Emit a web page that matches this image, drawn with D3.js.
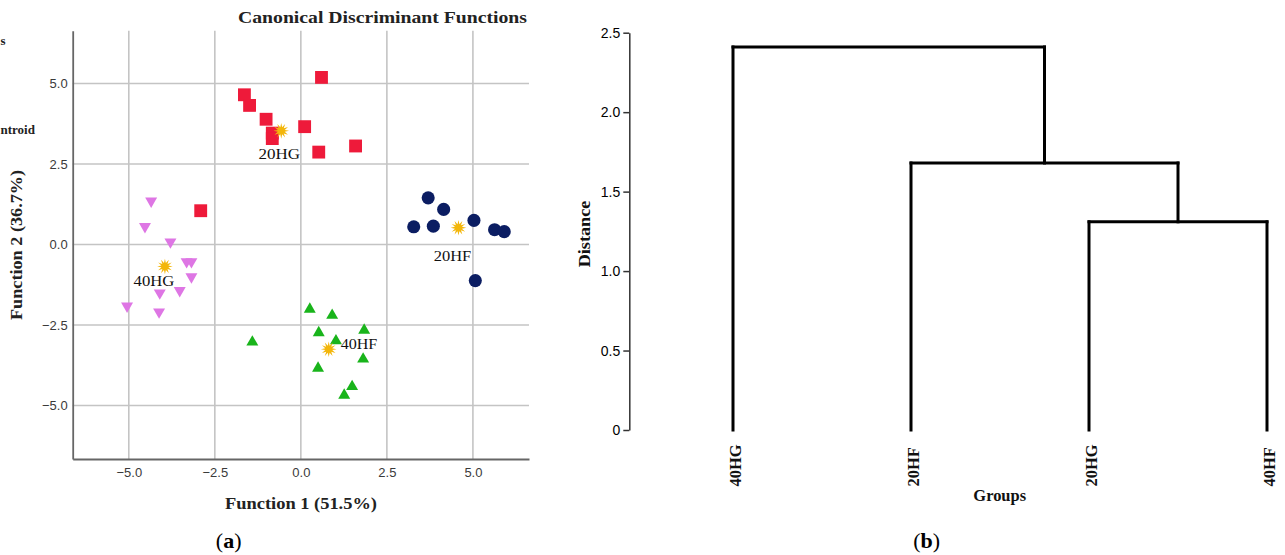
<!DOCTYPE html>
<html>
<head>
<meta charset="utf-8">
<script src="https://cdn.jsdelivr.net/npm/d3@7/dist/d3.min.js"></script>
<style>
  html, body { margin: 0; padding: 0; background: #fff; }
  svg { display: block; }
</style>
</head>
<body>
<svg id="chart" width="1285" height="555"></svg>
<script>
// ---------------- DATA ----------------
// Panel (a): canonical discriminant scores [function1, function2]
const group20HG = [[0.60,5.19],[-1.64,4.65],[-1.49,4.32],[-1.01,3.89],[-0.83,3.46],[-0.83,3.29],[0.11,3.66],[0.52,2.87],[1.59,3.06],[-2.91,1.05]];
const group20HF = [[3.70,1.45],[4.15,1.09],[3.28,0.55],[3.85,0.57],[5.03,0.75],[5.63,0.46],[5.91,0.40],[5.07,-1.12]];
const group40HG = [[-4.35,1.35],[-4.53,0.56],[-3.79,0.08],[-3.32,-0.53],[-3.18,-0.53],[-3.18,-1.00],[-3.52,-1.43],[-4.10,-1.50],[-5.05,-1.91],[-4.12,-2.09]];
const group40HF = [[0.26,-2.01],[0.91,-2.20],[0.52,-2.74],[1.84,-2.66],[1.02,-2.99],[1.81,-3.56],[0.50,-3.84],[1.49,-4.41],[1.26,-4.68],[-1.41,-3.03]];
const centroidNames = ["20HG","20HF","40HG","40HF"];
const centroidValues = [[-0.57,3.53],[4.58,0.52],[-3.95,-0.68],[0.81,-3.25]];
const scatterTicks = [-5.0,-2.5,0.0,2.5,5.0];
const scatterDomain = [-6.63, 6.63];
const scatterYDomain = [-6.66, 6.64];
// visible fragments of the (cropped) legend at the left edge
const legendFragments = ["s", "ntroid"];

// Panel (b): dendrogram
const leafOrder = ["40HG","20HF","20HG","40HF"];
const mergeHeights = [1.31, 1.68, 2.41]; // (20HG,40HF), (20HF,[..]), (40HG,[..])
const distanceTicks = [0, 0.5, 1.0, 1.5, 2.0, 2.5];

// ---------------- SETUP ----------------
const svg = d3.select("#chart");
svg.append("rect").attr("width",1285).attr("height",555).attr("fill","#fff");
const serif = "'Liberation Serif','DejaVu Serif',serif";
const sans = "'Liberation Sans',Arial,sans-serif";

// ================= PANEL (a) =================
const L = {left:72.7, right:529, top:30.7, bottom:459};
const x = d3.scaleLinear().domain(scatterDomain).range([L.left, L.right]);
const y = d3.scaleLinear().domain(scatterYDomain).range([L.bottom, L.top]);

const gA = svg.append("g");
// gridlines
gA.append("g").selectAll("line").data(scatterTicks).join("line")
  .attr("x1", d => x(d)).attr("x2", d => x(d))
  .attr("y1", L.top).attr("y2", L.bottom)
  .attr("stroke","#c4c4c4").attr("stroke-width",1.6);
gA.append("g").selectAll("line").data(scatterTicks).join("line")
  .attr("y1", d => y(d)).attr("y2", d => y(d))
  .attr("x1", L.left).attr("x2", L.right)
  .attr("stroke","#c4c4c4").attr("stroke-width",1.6);

// axes
const fmt = d3.format(".1f");
const xAxis = gA.append("g").attr("transform",`translate(0,${L.bottom})`)
  .call(d3.axisBottom(x).tickValues(scatterTicks).tickFormat(fmt).tickSize(0).tickPadding(9));
const yAxis = gA.append("g").attr("transform",`translate(${L.left},0)`)
  .call(d3.axisLeft(y).tickValues(scatterTicks).tickFormat(fmt).tickSize(0).tickPadding(5));
[xAxis, yAxis].forEach(a => {
  a.select(".domain").attr("stroke","#666").attr("stroke-width",1.8);
  a.selectAll("text").attr("font-family",sans).attr("font-size",13).attr("fill","#3a3a3a");
});

// markers
const marks = gA.append("g");
function drawGroup(data, symbol, size, fill, rot) {
  marks.append("g").selectAll("path").data(data).join("path")
    .attr("d", d3.symbol().type(symbol).size(size))
    .attr("transform", d => `translate(${x(d[0])},${y(d[1])}) rotate(${rot||0})`)
    .attr("fill", fill);
}
drawGroup(group20HG, d3.symbolSquare, 165, "#ee1a3a");
drawGroup(group20HF, d3.symbolCircle, 135, "#0b1d62");
drawGroup(group40HG, d3.symbolTriangle, 62, "#de76e4", 180);
drawGroup(group40HF, d3.symbolTriangle, 62, "#19b41b");

// centroid stars (starburst)
const nPts = 12;
const starPts = d3.range(nPts*2).map(i => [i*Math.PI/nPts, i%2===0 ? 7.8 : 3.6]);
const starPath = d3.lineRadial().curve(d3.curveLinearClosed)(starPts);
const cent = centroidNames.map((n,i) => ({name:n, v:centroidValues[i]}));
gA.append("g").selectAll("path").data(cent).join("path")
  .attr("d", starPath)
  .attr("transform", d => `translate(${x(d.v[0])},${y(d.v[1])})`)
  .attr("fill","#f3b60a");

// centroid labels
const labelOff = {"20HG":[-2,28,41.5],"20HF":[-6,33,37.5],"40HG":[-11,19.6,40.7],"40HF":[30.3,0.2,36.6]};
gA.append("g").selectAll("text").data(cent).join("text")
  .attr("x", d => x(d.v[0]) + labelOff[d.name][0])
  .attr("y", d => y(d.v[1]) + labelOff[d.name][1])
  .attr("text-anchor","middle")
  .attr("font-family",serif).attr("font-size",14.5).attr("fill","#111")
  .attr("textLength", d => labelOff[d.name][2]).attr("lengthAdjust","spacingAndGlyphs")
  .text(d => d.name);

// title and axis labels
svg.append("text").attr("x",527).attr("y",22.5).attr("text-anchor","end")
  .attr("font-family",serif).attr("font-weight","bold").attr("font-size",17).attr("fill","#222")
  .attr("textLength",289).attr("lengthAdjust","spacingAndGlyphs")
  .text("Canonical Discriminant Functions");
svg.append("text").attr("x",301).attr("y",509).attr("text-anchor","middle")
  .attr("font-family",serif).attr("font-weight","bold").attr("font-size",17).attr("fill","#222")
  .attr("textLength",152).attr("lengthAdjust","spacingAndGlyphs")
  .text("Function 1 (51.5%)");
svg.append("text").attr("transform","translate(21.5,245) rotate(-90)").attr("text-anchor","middle")
  .attr("font-family",serif).attr("font-weight","bold").attr("font-size",17).attr("fill","#222")
  .attr("textLength",150).attr("lengthAdjust","spacingAndGlyphs")
  .text("Function 2 (36.7%)");
// legend fragments at left edge (as seen in the cropped reference)
svg.append("g").selectAll("text").data(legendFragments).join("text")
  .attr("x", 0.5)
  .attr("y", (d,i) => i === 0 ? 45 : 134)
  .attr("font-family",serif).attr("font-weight","bold").attr("font-size",13).attr("fill","#222")
  .text(d => d);
// (a)
const ta = svg.append("text").attr("x",228.7).attr("y",548).attr("text-anchor","middle")
  .attr("font-family",serif).attr("font-size",22).attr("fill","#000");
ta.append("tspan").text("(");
ta.append("tspan").attr("font-weight","bold").text("a");
ta.append("tspan").text(")");

// ================= PANEL (b) =================
const yd = d3.scaleLinear().domain([0,2.5]).range([430, 32.7]);
const xd = d3.scalePoint().domain(leafOrder).range([733, 1267]);

const dAxis = svg.append("g").attr("transform","translate(629.3,0)")
  .call(d3.axisLeft(yd).tickValues(distanceTicks)
    .tickFormat(d => d === 0 ? "0" : d3.format(".1f")(d)).tickSize(6).tickSizeOuter(0).tickPadding(3));
dAxis.select(".domain").attr("stroke","#333").attr("stroke-width",1.5);
dAxis.selectAll(".tick line").attr("stroke","#333").attr("stroke-width",1.5);
dAxis.selectAll("text").attr("font-family",sans).attr("font-size",14).attr("fill","#000");

// build hierarchy from merges
const tree = {name:"root", h: mergeHeights[2], children:[
  {name:"40HG", h:0},
  {name:"c2", h: mergeHeights[1], children:[
    {name:"20HF", h:0},
    {name:"c1", h: mergeHeights[0], children:[{name:"20HG",h:0},{name:"40HF",h:0}]}
  ]}
]};
const root = d3.hierarchy(tree);
root.eachAfter(n => {
  n.px = n.children ? d3.mean(n.children, c => c.px) : xd(n.data.name);
  n.py = yd(n.data.h);
});
const links = [];
root.each(n => {
  if (n.children) {
    n.children.forEach(c => links.push({x1:c.px, y1:c.py, x2:c.px, y2:n.py}));
    links.push({x1:n.children[0].px, y1:n.py, x2:n.children[n.children.length-1].px, y2:n.py});
  }
});
svg.append("g").selectAll("line").data(links).join("line")
  .attr("x1",d=>d.x1).attr("y1",d=>d.y1).attr("x2",d=>d.x2).attr("y2",d=>d.y2)
  .attr("stroke","#000").attr("stroke-width",3).attr("stroke-linecap","square");

// leaf labels
svg.append("g").selectAll("text").data(leafOrder).join("text")
  .attr("transform", d => `translate(${xd(d)+7.5},486.5) rotate(-90)`)
  .attr("text-anchor","start")
  .attr("font-family",serif).attr("font-weight","bold").attr("font-size",16.5).attr("fill","#111")
  .text(d => d);

svg.append("text").attr("transform","translate(590,234) rotate(-90)").attr("text-anchor","middle")
  .attr("font-family",serif).attr("font-weight","bold").attr("font-size",16.5).attr("fill","#111")
  .attr("textLength",66.7).attr("lengthAdjust","spacingAndGlyphs")
  .text("Distance");
svg.append("text").attr("x",999.7).attr("y",500.5).attr("text-anchor","middle")
  .attr("font-family",serif).attr("font-weight","bold").attr("font-size",16.5).attr("fill","#111")
  .attr("textLength",52.7).attr("lengthAdjust","spacingAndGlyphs")
  .text("Groups");
const tb = svg.append("text").attr("x",926.7).attr("y",548).attr("text-anchor","middle")
  .attr("font-family",serif).attr("font-size",22).attr("fill","#000");
tb.append("tspan").text("(");
tb.append("tspan").attr("font-weight","bold").text("b");
tb.append("tspan").text(")");
</script>
</body>
</html>
